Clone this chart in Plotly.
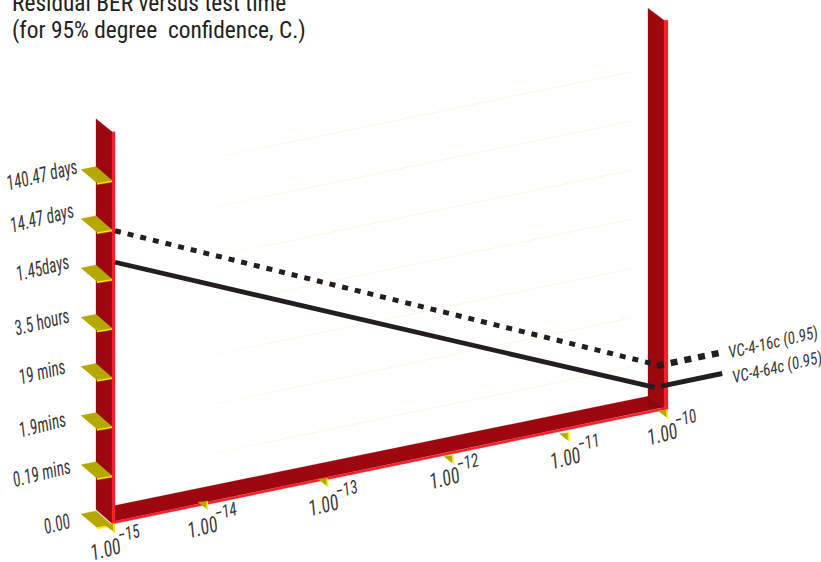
import plotly.graph_objects as go

# ---- data ----
ber_exponents = [-15, -14, -13, -12, -11, -10]
ber_tick_labels = ["1.00<sup>\u221215</sup>", "1.00<sup>\u221214</sup>", "1.00<sup>\u221213</sup>",
                   "1.00<sup>\u221212</sup>", "1.00<sup>\u221211</sup>", "1.00<sup>\u221210</sup>"]
time_levels = [0, 1, 2, 3, 4, 5, 6, 7]
time_labels = ["0.00", "0.19 mins", "1.9mins", "19 mins", "3.5 hours", "1.45days", "14.47 days", "140.47 days"]
series_16c_x = [-15, -10.07]
series_16c_y = [5.95, 0.92]
series_16c_lead_x = [-10.1, -9.49]
series_16c_lead_y = [0.93, 0.93]
series_64c_x = [-15, -10.12]
series_64c_y = [5.31, 0.5]
series_64c_lead_x = [-10.06, -9.51]
series_64c_lead_y = [0.5, 0.5]
series_names = ["VC-4-16c (0.95)", "VC-4-64c (0.95)"]
title_lines = ["Residual BER versus test time", "(for 95% degree  confidence, C.)"]

# ---- oblique projection: axes are in exponent / level units ----
W, H = 821, 562
X0, Y0 = 115.0, 523.5          # pixel of exponent -15, level 0
PX_E = (668 - 115) / 5.0       # pixels per decade
PX_L = 49.2                    # pixels per level
SLOPE = 0.2065                 # screen rise per screen px along BER
SHEAR = SLOPE * PX_E / PX_L
TICK_SHIFT = [0, -17.6, -8, 7, 12, 0]  # px; the drawing is not quite uniform


def P(e, lv, ox=0.0, oy=0.0):
    """data point -> axis coordinates, with an optional pixel offset."""
    return e + ox / PX_E, lv + SHEAR * (e + 15) - oy / PX_L


def poly(points, color):
    xs, ys = zip(*points)
    return go.Scatter(x=list(xs) + [xs[0]], y=list(ys) + [ys[0]], mode="lines", fill="toself",
                      fillcolor=color, line=dict(color=color, width=0.3), hoverinfo="skip", showlegend=False)


def series_line(xs, ys, name, width, dash="solid"):
    return go.Scatter(x=xs, y=[P(e, v)[1] for e, v in zip(xs, ys)], mode="lines", name=name,
                      line=dict(color=INK, width=width, dash=dash), showlegend=False)


DARK, BRIGHT, CORNER = "#9c0710", "#f1222c", "#8a0810"
OLIVE, YELLOW = "#b5a800", "#f7ec00"
INK = "#231f20"
LABEL = "#3a3839"
fig = go.Figure()

# pale gridlines fading to the left
fades = [(-14.4, -14.1, "#fffdf6"), (-14.1, -13.6, "#fef9ea"), (-13.6, -10.3, "#fdf4d8")]
for a, b, c in fades:
    xs, ys = [], []
    for lv in time_levels[1:]:
        for e in (a, b):
            px, py = P(e, lv, -3, 0)
            xs.append(px); ys.append(py)
        xs.append(None); ys.append(None)
    fig.add_trace(go.Scatter(x=xs, y=ys, mode="lines", line=dict(color=c, width=0.8),
                             hoverinfo="skip", showlegend=False))

# floor and its bright edge
fig.add_trace(poly([P(-15, 0, 0, -18), P(-10, 0, -20, -13), P(-10, 0, -4, -2), P(-15, 0, -2, -2)], DARK))
fig.add_trace(poly([P(-15, 0, 0, -2.5), P(-10, 0, 0, -2.5), P(-10, 0, 0, 0), P(-15, 0, 0, 0)], BRIGHT))

# left wall
top_l, top_r = 7.96, 7.91
fig.add_trace(poly([P(-15, 0, -19, -14), P(-15, top_l, -19, -13), P(-15, top_l, -3, 0), P(-15, 0, -3, 0)], DARK))
fig.add_trace(poly([P(-15, 0, -3, 0), P(-15, top_l, -3, 0), P(-15, top_l, 0, 0), P(-15, 0, 0, 0)], BRIGHT))

# right wall
fig.add_trace(poly([P(-10, 0, -20, -13), P(-10, top_r, -20, -12), P(-10, top_r, -4, 0), P(-10, 0, -4, -2)], DARK))
fig.add_trace(poly([P(-10, 0, -20, -13), P(-10, 0, -4, -2), P(-10, 0, -20, -2)], CORNER))
fig.add_trace(poly([P(-10, 0, -4, -2), P(-10, top_r, -4, 0), P(-10, top_r, 0, 0), P(-10, 0, 0, 0)], BRIGHT))

# y tick plates
for lv in time_levels:
    fig.add_trace(poly([P(-15, lv, -34, -9.5), P(-15, lv, -19, -12.5), P(-15, lv, -3, 1.5), P(-15, lv, -18, 4)], OLIVE))
    fig.add_trace(poly([P(-15, lv, -18, 4), P(-15, lv, -3, 1.5), P(-15, lv, -3, 3), P(-15, lv, -18, 5.5)], YELLOW))

# x tick triangles
for e, s in zip(ber_exponents, TICK_SHIFT):
    fig.add_trace(poly([P(e, 0, s - 10, 1.5), P(e, 0, s - 1.5, 0.5), P(e, 0, s - 1.5, 8)], OLIVE))
    fig.add_trace(poly([P(e, 0, s - 1.5, 0.5), P(e, 0, s, 0.5), P(e, 0, s, 9.5), P(e, 0, s - 1.5, 8)], YELLOW))

# series
fig.add_trace(series_line(series_64c_x, series_64c_y, series_names[1], 4.8))
fig.add_trace(series_line(series_64c_lead_x, series_64c_lead_y, series_names[1], 5))
fig.add_trace(series_line(series_16c_x, series_16c_y, series_names[0], 5, "6px,7px"))
fig.add_trace(series_line(series_16c_lead_x, series_16c_lead_y, series_names[0], 6.5, "7px,7px"))

FONT = "Roboto Condensed, Roboto, sans-serif"


def label(x, y, text, size=21, angle=-14):
    fig.add_annotation(x=x, y=y, text=text, showarrow=False, textangle=angle, xanchor="center",
                       yanchor="middle", font=dict(family=FONT, size=size, color=LABEL, style="italic"))


y_label_offsets = [(-58, 0), (-73, -1), (-73, 0), (-73, -4), (-73, -5), (-73, -10), (-73, -10), (-73, -4)]
for lv, t, (ox, oy) in zip(time_levels, time_labels, y_label_offsets):
    px, py = P(-15, lv, ox, oy)
    label(px, py, t)
x_label_offsets = [(1, 21), (-13, 22), (-3, 23), (8, 19), (18, 22), (4, 21)]
for e, t, (ox, oy) in zip(ber_exponents, ber_tick_labels, x_label_offsets):
    px, py = P(e, 0, ox, oy)
    label(px, py, t, size=22)
label(*P(-9.49, 0.93, 49, -10), series_names[0], size=17, angle=-13)
label(*P(-9.51, 0.5, 55, -7), series_names[1], size=17, angle=-13)

# title (first line is cut off by the top of the page)
for line, py_px in zip(title_lines, (3, 30)):
    fig.add_annotation(xref="paper", yref="paper", x=10 / W, y=1 - py_px / H, text=line, showarrow=False,
                       xanchor="left", yanchor="middle", font=dict(family=FONT, size=23.4, color="#231f20"))

fig.update_layout(
    width=W, height=H, margin=dict(l=0, r=0, t=0, b=0), paper_bgcolor="white", plot_bgcolor="white",
    showlegend=False,
    xaxis=dict(visible=False, range=[-15 - X0 / PX_E, -15 + (W - X0) / PX_E], fixedrange=True),
    yaxis=dict(visible=False, range=[-(H - Y0) / PX_L, Y0 / PX_L], fixedrange=True),
)
page_js = """
document.body.style.margin='0';
var s=document.createElement('style');
s.textContent='.annotation-text{font-stretch:75%}';
document.head.appendChild(s);
setTimeout(function(){
  document.querySelectorAll('.annotation-text').forEach(function(t){
    if(t.style.fontStyle!=='italic') return;
    t.querySelectorAll('tspan').forEach(function(p){ if(p.style.fontSize==='70%') p.style.fontSize='85%'; });
    var size=parseFloat(t.style.fontSize), f=size>=22?0.82:(size>=20?0.74:0.9);
    t.setAttribute('textLength', t.getComputedTextLength()*f);
    t.setAttribute('lengthAdjust','spacingAndGlyphs');
  });
},60);
"""
fig.write_html("out.html", config=dict(displayModeBar=False), post_script=page_js)
